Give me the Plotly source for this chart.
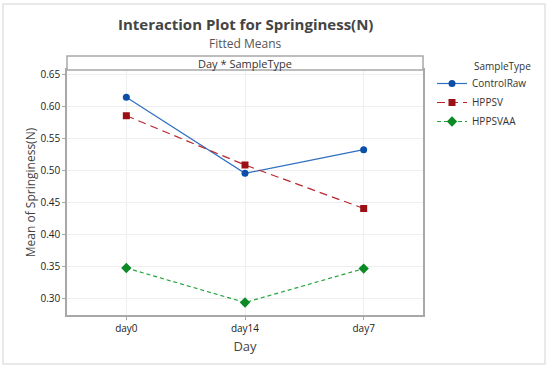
import plotly.graph_objects as go

days = ["day0", "day14", "day7"]
control_raw = [0.614, 0.495, 0.532]
hppsv = [0.585, 0.508, 0.440]
hppsvaa = [0.347, 0.293, 0.346]
y_ticks = [0.30, 0.35, 0.40, 0.45, 0.50, 0.55, 0.60, 0.65]

FONT = "Open Sans"
L, R, T, B = 67, 127, 70, 55
PW, PH = 550 - L - R, 370 - T - B


def px_x(x):
    return (x - L) / PW


def px_y(y):
    return (370 - B - y) / PH


fig = go.Figure()
fig.add_trace(go.Scatter(x=days, y=control_raw, name="ControlRaw", mode="lines+markers",
                         line=dict(color="#2F6FC0", width=1.2, dash="solid"),
                         marker=dict(symbol="circle", size=7, color="#0B4FA8")))
fig.add_trace(go.Scatter(x=days, y=hppsv, name="HPPSV", mode="lines+markers",
                         line=dict(color="#B8282E", width=1.2, dash="8px,5px"),
                         marker=dict(symbol="square", size=7, color="#9A1014")))
fig.add_trace(go.Scatter(x=days, y=hppsvaa, name="HPPSVAA", mode="lines+markers",
                         line=dict(color="#27A33C", width=1.2, dash="4px,3px"),
                         marker=dict(symbol="diamond", size=8, color="#0B8A25")))

fig.update_layout(
    width=550, height=370,
    margin=dict(l=L, r=R, t=T, b=B, autoexpand=False),
    paper_bgcolor="white", plot_bgcolor="white",
    font=dict(family=FONT, color="#333333"),
    showlegend=True,
    legend=dict(x=px_x(432), y=px_y(69), xanchor="left", yanchor="top",
                font=dict(size=10, color="#333333"), tracegroupgap=0,
                itemwidth=30, bgcolor="rgba(0,0,0,0)"),
    xaxis=dict(type="category", range=[-0.5, 2.5], showgrid=True, gridcolor="#EEEEEE",
               showline=True, linecolor="#A8A8A8", linewidth=1.5, mirror=True,
               ticks="outside", ticklen=3, tickcolor="#A8A8A8",
               tickfont=dict(size=10, color="#222222", family=FONT), zeroline=False,
               title=dict(text="Day", font=dict(size=13, color="#444444"), standoff=8)),
    yaxis=dict(range=[0.2735, 0.6565], tickvals=y_ticks, tickformat=".2f",
               showgrid=True, gridcolor="#EEEEEE",
               showline=True, linecolor="#A8A8A8", linewidth=1.5, mirror=True,
               ticks="outside", ticklen=3, tickcolor="#A8A8A8",
               tickfont=dict(size=10, color="#222222", family=FONT), zeroline=False,
               title=dict(text="Mean of Springiness(N)", font=dict(size=12, color="#444444"), standoff=2)),
)

# strip header
fig.add_shape(type="rect", xref="paper", yref="paper", x0=0, x1=1, y0=1.0, y1=px_y(56),
              line=dict(color="#A8A8A8", width=1.5), fillcolor="white", layer="above")
fig.add_annotation(text="Day * SampleType", xref="paper", yref="paper", x=0.5, y=px_y(63),
                   showarrow=False, font=dict(size=11, color="#333333"), yanchor="middle")
# legend title
fig.add_annotation(text="SampleType", xref="paper", yref="paper", x=px_x(472), y=px_y(66),
                   showarrow=False, xanchor="left", yanchor="middle",
                   font=dict(size=10, color="#333333"))
# titles
fig.add_annotation(text="<b>Interaction Plot for Springiness(N)</b>", xref="paper", yref="paper",
                   x=px_x(246), y=px_y(24), showarrow=False, yanchor="middle",
                   font=dict(size=15, color="#444444"))
fig.add_annotation(text="Fitted Means", xref="paper", yref="paper",
                   x=px_x(246), y=px_y(43), showarrow=False, yanchor="middle",
                   font=dict(size=12, color="#555555"))
# outer frame
fig.add_shape(type="rect", xref="paper", yref="paper",
              x0=px_x(3), x1=px_x(545), y0=px_y(364), y1=px_y(4),
              line=dict(color="#E2E2E2", width=1.5), fillcolor="rgba(0,0,0,0)")

fig.write_html("out.html", config={"displayModeBar": False},
               post_script="document.body.style.margin='0';document.body.style.padding='0';")
